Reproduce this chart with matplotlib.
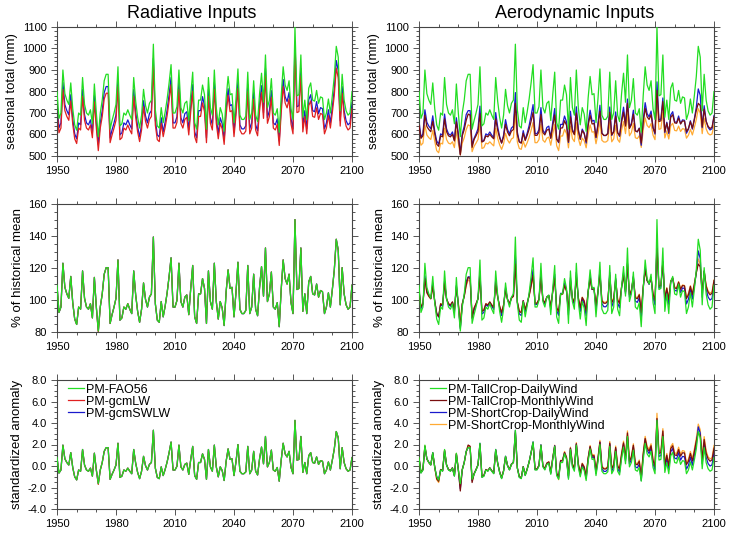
import numpy as np
import matplotlib
matplotlib.use("Agg")
import matplotlib.pyplot as plt
from matplotlib.ticker import MultipleLocator, FormatStrFormatter

plt.rcParams['font.family'] = ['Liberation Sans', 'DejaVu Sans']

years = np.arange(1950, 2101)

# seasonal totals (mm), one value per year
fao56 = [800, 675, 700, 900, 790, 760, 740, 840, 720, 645,
         620, 700, 690, 865, 740, 700, 690, 715, 650, 835,
         700, 590, 700, 760, 850, 880, 880, 625, 665, 700,
         740, 915, 640, 650, 700, 690, 715, 690, 670, 865,
         755, 680, 630, 690, 810, 735, 700, 745, 760, 1020,
         715, 640, 630, 725, 655, 705, 765, 840, 925, 700,
         700, 730, 900, 725, 700, 745, 755, 665, 785, 890,
         655, 625, 760, 760, 830, 785, 625, 865, 725, 690,
         900, 725, 645, 725, 695, 615, 770, 870, 785, 790,
         655, 765, 905, 690, 670, 670, 685, 890, 670, 700,
         850, 690, 660, 790, 885, 750, 970, 725, 760, 860,
         700, 690, 720, 610, 780, 915, 830, 805, 850, 720,
         670, 1100, 780, 785, 970, 680, 760, 670, 815, 840,
         760, 755, 805, 745, 775, 770, 670, 700, 765, 700,
         780, 870, 1010, 960, 710, 880, 760, 710, 690, 700,
         800]

gcm_lw = [720, 608, 630, 810, 711, 684, 666, 756, 648, 580,
          558, 630, 621, 778, 666, 630, 621, 644, 585, 752,
          630, 525, 630, 684, 765, 792, 792, 562, 598, 630,
          666, 824, 576, 585, 630, 621, 644, 621, 603, 778,
          680, 612, 567, 621, 729, 662, 630, 670, 684, 918,
          644, 576, 567, 652, 590, 634, 688, 756, 832, 630,
          630, 657, 810, 652, 630, 670, 680, 598, 706, 801,
          590, 562, 684, 684, 747, 706, 562, 778, 652, 621,
          810, 652, 580, 652, 626, 554, 693, 783, 706, 711,
          590, 688, 814, 621, 603, 603, 616, 801, 603, 630,
          765, 621, 594, 711, 796, 675, 873, 652, 684, 774,
          630, 621, 648, 549, 702, 824, 747, 724, 765, 648,
          603, 990, 702, 706, 873, 612, 684, 603, 734, 756,
          684, 680, 724, 670, 698, 693, 603, 630, 688, 630,
          702, 783, 909, 864, 639, 792, 684, 639, 621, 630,
          720]

gcm_swlw = [748, 631, 654, 842, 739, 711, 692, 785, 673, 603,
            580, 654, 645, 809, 692, 654, 645, 668, 608, 781,
            654, 552, 654, 711, 795, 823, 823, 584, 622, 654,
            692, 856, 598, 608, 654, 645, 668, 645, 626, 809,
            706, 636, 589, 645, 757, 687, 654, 697, 711, 954,
            668, 598, 589, 678, 612, 659, 715, 785, 865, 654,
            654, 683, 842, 678, 654, 697, 706, 622, 734, 832,
            612, 584, 711, 711, 776, 734, 584, 809, 678, 645,
            842, 678, 603, 678, 650, 575, 720, 813, 734, 739,
            612, 715, 846, 645, 626, 626, 640, 832, 626, 654,
            795, 645, 617, 739, 827, 701, 907, 678, 711, 804,
            654, 645, 673, 570, 729, 856, 776, 753, 795, 673,
            626, 1028, 729, 734, 907, 636, 711, 626, 762, 785,
            711, 706, 753, 697, 725, 720, 626, 654, 715, 654,
            729, 813, 944, 898, 664, 823, 711, 664, 645, 654,
            748]

tall_daily = fao56  # same green curve in both columns

tall_monthly = [642, 582, 594, 690, 637, 623, 613, 661, 604, 555,
                545, 594, 589, 673, 613, 594, 589, 601, 570, 659,
                594, 505, 594, 623, 666, 695, 690, 540, 577, 594,
                613, 697, 565, 570, 594, 589, 601, 589, 580, 673,
                620, 584, 560, 589, 647, 611, 594, 616, 623, 745,
                601, 565, 560, 606, 572, 596, 625, 662, 703, 596,
                596, 611, 693, 609, 598, 620, 625, 582, 640, 691,
                578, 565, 630, 631, 664, 643, 567, 682, 616, 599,
                700, 617, 579, 618, 604, 566, 641, 689, 649, 651,
                587, 640, 708, 605, 596, 596, 604, 703, 598, 612,
                685, 608, 595, 657, 704, 639, 745, 628, 645, 694,
                617, 613, 628, 560, 657, 722, 682, 670, 692, 631,
                607, 805, 660, 664, 753, 613, 653, 610, 680, 692,
                654, 652, 676, 649, 663, 662, 614, 628, 660, 629,
                668, 712, 745, 735, 636, 718, 661, 638, 628, 634,
                682]

short_daily = [663, 588, 603, 715, 657, 639, 627, 687, 615, 570,
               555, 603, 597, 695, 627, 603, 597, 612, 573, 678,
               603, 510, 603, 639, 693, 711, 711, 550, 582, 603,
               627, 732, 567, 573, 603, 597, 612, 597, 585, 702,
               636, 591, 561, 597, 669, 624, 603, 630, 639, 795,
               612, 567, 561, 618, 576, 606, 642, 688, 739, 604,
               604, 623, 725, 620, 605, 633, 639, 585, 657, 721,
               580, 562, 647, 647, 686, 659, 563, 708, 624, 603,
               729, 625, 577, 625, 607, 560, 653, 713, 662, 666,
               585, 651, 736, 607, 595, 595, 605, 728, 596, 614,
               705, 609, 591, 669, 727, 646, 765, 632, 653, 713,
               617, 612, 630, 550, 666, 748, 697, 682, 709, 632,
               602, 845, 668, 672, 770, 609, 657, 604, 691, 706,
               659, 656, 686, 650, 668, 666, 606, 624, 664, 625,
               673, 727, 812, 782, 632, 734, 663, 633, 621, 627,
               688]

short_monthly = [602, 550, 560, 644, 598, 585, 577, 619, 568, 525,
                 515, 560, 556, 629, 577, 560, 556, 566, 539, 617,
                 560, 505, 560, 585, 623, 645, 640, 520, 545, 560,
                 577, 650, 535, 539, 560, 556, 566, 556, 547, 629,
                 583, 552, 531, 556, 606, 575, 560, 579, 585, 694,
                 566, 535, 531, 570, 541, 562, 587, 620, 656, 562,
                 562, 576, 647, 574, 564, 583, 588, 550, 602, 646,
                 548, 525, 593, 593, 624, 605, 538, 639, 581, 567,
                 655, 582, 549, 583, 571, 538, 603, 645, 611, 613,
                 557, 603, 663, 573, 565, 565, 572, 659, 566, 580,
                 643, 577, 564, 620, 660, 604, 696, 594, 609, 651,
                 585, 581, 594, 540, 621, 677, 642, 632, 651, 597,
                 576, 758, 624, 627, 704, 584, 617, 579, 641, 652,
                 619, 617, 639, 614, 627, 625, 583, 597, 624, 598,
                 632, 670, 720, 700, 604, 676, 626, 605, 598, 602,
                 645]

left_names = ['PM-FAO56', 'PM-gcmLW', 'PM-gcmSWLW']
right_names = ['PM-TallCrop-DailyWind', 'PM-TallCrop-MonthlyWind',
               'PM-ShortCrop-DailyWind', 'PM-ShortCrop-MonthlyWind']

c_green = '#22dd22'
c_red = '#e02020'
c_blue = '#1a1acc'
c_brown = '#7a0f0f'
c_orange = '#ffaa33'

hist = years <= 2005


def pct_hist(s):
    s = np.asarray(s, float)
    return s / s[hist].mean() * 100


def std_anom(s):
    s = np.asarray(s, float)
    return (s - s[hist].mean()) / s[hist].std()


left = [(fao56, c_green, 3), (gcm_lw, c_red, 2), (gcm_swlw, c_blue, 1)]
right = [(tall_daily, c_green, 4), (tall_monthly, c_brown, 3),
         (short_daily, c_blue, 2), (short_monthly, c_orange, 1)]

W, H = 729, 534
fig = plt.figure(figsize=(W / 100, H / 100), dpi=100)

cols = [(57, 352), (419, 714)]
rows = [(27, 156), (204, 332), (380, 509)]
ylabels = ['seasonal total (mm)', '% of historical mean', 'standardized anomaly']
ylims = [(500, 1100), (80, 160), (-4, 8)]
ymaj = [100, 20, 2]
ymin = [20, 5, 0.5]
transforms = [lambda s: np.asarray(s, float), pct_hist, std_anom]

for ci, series in enumerate([left, right]):
    x0, x1 = cols[ci]
    for ri in range(3):
        y0, y1 = rows[ri]
        ax = fig.add_axes([x0 / W, 1 - y1 / H, (x1 - x0) / W, (y1 - y0) / H])
        for s, col, z in series:
            ax.plot(years, transforms[ri](s), color=col, lw=0.9, zorder=z)
        ax.set_xlim(1950, 2100)
        ax.set_ylim(*ylims[ri])
        ax.xaxis.set_major_locator(MultipleLocator(30))
        ax.xaxis.set_minor_locator(MultipleLocator(10))
        ax.yaxis.set_major_locator(MultipleLocator(ymaj[ri]))
        ax.yaxis.set_minor_locator(MultipleLocator(ymin[ri]))
        if ri == 2:
            ax.yaxis.set_major_formatter(FormatStrFormatter('%.1f'))
        ax.tick_params(which='both', direction='out', top=True, right=True,
                       labelsize=8, color='#555555', width=0.7)
        ax.tick_params(which='major', length=4)
        ax.tick_params(which='minor', length=2)
        for sp in ax.spines.values():
            sp.set_color('#444444')
            sp.set_linewidth(0.8)
        ax.set_ylabel(ylabels[ri], fontsize=9.5, labelpad=3)
        if ri == 2:
            names = left_names if ci == 0 else right_names
            handles = [ax.lines[i] for i in range(len(series))]
            ax.legend(handles, names, loc='upper left', frameon=False,
                      fontsize=9, handlelength=1.3, handletextpad=0.15,
                      labelspacing=0.0, borderaxespad=0.0,
                      bbox_to_anchor=(0.02, 1.01))

fig.text(192 / W, 1 - 13 / H, 'Radiative Inputs', ha='center', va='center', fontsize=13)
fig.text(575 / W, 1 - 13 / H, 'Aerodynamic Inputs', ha='center', va='center', fontsize=13)

fig.savefig('out.png', dpi=100)
